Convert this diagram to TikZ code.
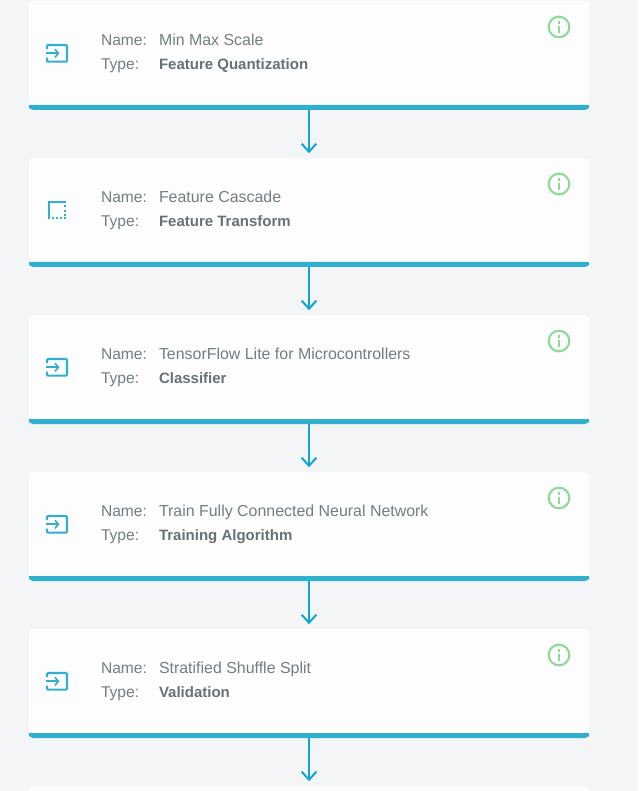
\documentclass[tikz,border=0pt]{standalone}
\usepackage{fontspec}
\setmainfont{Liberation Sans}
\usetikzlibrary{arrows.meta}
\definecolor{pagebg}{HTML}{F3F5F7}
\definecolor{cardbg}{HTML}{FDFDFD}
\definecolor{barcol}{HTML}{31AFCF}
\definecolor{arrowcol}{HTML}{12A5D0}
\definecolor{infocol}{HTML}{8FD99B}
\definecolor{txtcol}{HTML}{727E83}
\definecolor{boldcol}{HTML}{667277}
\tikzset{
  x=0.75pt,y=-0.75pt,
  card/.style={fill=cardbg,rounded corners=3pt,minimum width=420pt,minimum height=81.75pt,inner sep=0pt,outer sep=0pt,anchor=north west},
  lbl/.style={anchor=base west,inner sep=0pt,outer sep=0pt,text=txtcol,font=\fontsize{11.7pt}{13pt}\selectfont},
  val/.style={lbl,font=\fontsize{11.95pt}{13pt}\selectfont},
  typ/.style={lbl,text=boldcol,font=\fontsize{11.25pt}{13pt}\selectfont\bfseries},
  iconline/.style={draw=barcol,line width=1.6pt,rounded corners=0.8pt},
  info/.style={circle,draw=infocol,line width=1.6pt,minimum size=15.5pt,inner sep=0pt},
  flow/.style={draw=arrowcol,line width=1.5pt,shorten >=3.6pt,-{Straight Barb[length=6pt,width=11pt,line width=1.5pt]}},
}
\newcommand{\cardrow}[5]{% index, top, name, type
  \node[card] (c#1) at (29,#2) {};
  \fill[barcol,rounded corners=3pt] (29,#2+104) -- (29,#2+109) -- (589,#2+109) -- (589,#2+104) -- cycle;
  \fill[barcol] (29,#2+104) rectangle (589,#2+106);
  \node[lbl] (n#1) at (101,#2+44.9) {Name:};
  \node[val] (v#1) at (159,#2+44.9) {#3};
  \node[lbl] (t#1) at (101,#2+68.9) {Type:};
  \node[typ] (y#1) at (159,#2+68.9) {#4};
  \node[info] (i#1) at (559,#2+26) {};
  \fill[infocol] (557.9,#2+20.4) rectangle (560.1,#2+22.8);
  \fill[infocol] (557.9,#2+24.6) rectangle (560.1,#2+32);
  #5{#2}
}
\newcommand{\iconenter}[1]{%
  \draw[iconline] (47,#1+48.2) -- (47,#1+44) -- (67,#1+44) -- (67,#1+60.6) -- (47,#1+60.6) -- (47,#1+56.6);
  \draw[barcol,line width=1.6pt,-{Straight Barb[length=2.6pt,width=6pt,line width=1.2pt]}] (46,#1+52.3) -- (59.5,#1+52.3);
}
\newcommand{\iconframe}[1]{%
  \draw[barcol,line width=1.6pt] (49,#1+61) -- (49,#1+44) -- (66,#1+44);
  \foreach \k in {0,1,2}{
    \fill[barcol] (64,#1+47+\k*4.6) rectangle (66,#1+49+\k*4.6);
  }
  \foreach \k in {0,1,2,3}{
    \fill[barcol] (52+\k*4,#1+59) rectangle (54+\k*4,#1+61);
  }
}
\begin{document}
\begin{tikzpicture}
  \useasboundingbox (0,0) rectangle (638,791);
  \clip (0,0) rectangle (638,791);
  \fill[pagebg] (0,0) rectangle (638,791);
  \cardrow{1}{1}{Min Max Scale}{Feature Quantization}{\iconenter}
  \cardrow{2}{158}{Feature Cascade}{Feature Transform}{\iconframe}
  \cardrow{3}{315}{TensorFlow Lite for Microcontrollers}{Classifier}{\iconenter}
  \cardrow{4}{472}{Train Fully Connected Neural Network}{Training Algorithm}{\iconenter}
  \cardrow{5}{629}{Stratified Shuffle Split}{Validation}{\iconenter}
  \node[card] (c6) at (29,786) {};
  \draw[flow] (c1) -- (c2);
  \draw[flow] (c2) -- (c3);
  \draw[flow] (c3) -- (c4);
  \draw[flow] (c4) -- (c5);
  \draw[flow] (c5) -- (c6);
\end{tikzpicture}
\end{document}
